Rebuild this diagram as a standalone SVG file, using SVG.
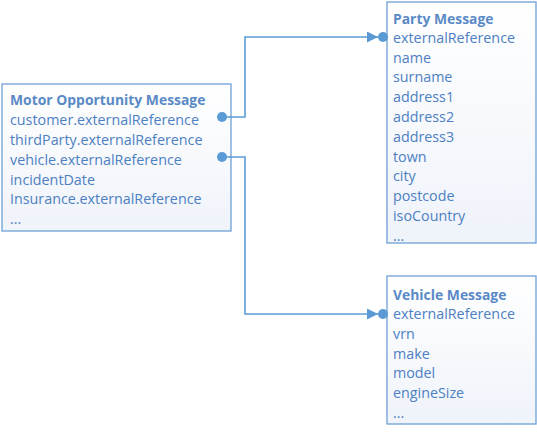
<svg xmlns="http://www.w3.org/2000/svg" width="537" height="433" viewBox="0 0 537 433">
<style>
.box{fill:url(#g);stroke:#6fa0d6;stroke-width:1.3}
.t{font-family:"Open Sans","Liberation Sans",sans-serif;font-size:14.3px;fill:#4d80c2}
.h{font-weight:bold;font-size:13.9px;fill:#5a8ac6}
.c{fill:none;stroke:#5b9bd5;stroke-width:1.6}
.d{fill:#5b9bd5}
</style>
<defs>
<linearGradient id="g" x1="0" y1="0" x2="0" y2="1">
<stop offset="0" stop-color="#ffffff"/>
<stop offset="1" stop-color="#eff3fa"/>
</linearGradient>
<marker id="a" viewBox="0 0 10 10" refX="10" refY="5" markerWidth="11" markerHeight="11" markerUnits="userSpaceOnUse" orient="auto">
<path d="M0,0 L10,5 L0,10 z" fill="#5b9bd5"/>
</marker>
</defs>
<rect width="537" height="433" fill="#ffffff"/>
<g id="motor">
<rect class="box" x="2" y="84" width="229" height="147"/>
<text class="t" x="10">
<tspan class="h" x="10" y="105">Motor Opportunity Message</tspan>
<tspan x="10" y="125">customer.externalReference</tspan>
<tspan x="10" y="145">thirdParty.externalReference</tspan>
<tspan x="10" y="165">vehicle.externalReference</tspan>
<tspan x="10" y="185">incidentDate</tspan>
<tspan x="10" y="204">Insurance.externalReference</tspan>
<tspan x="10" y="224">...</tspan>
</text>
</g>
<g id="party">
<rect class="box" x="387" y="2" width="149" height="241"/>
<text class="t">
<tspan class="h" x="393" y="24">Party Message</tspan>
<tspan x="393" y="43">externalReference</tspan>
<tspan x="393" y="63">name</tspan>
<tspan x="393" y="82">surname</tspan>
<tspan x="393" y="102">address1</tspan>
<tspan x="393" y="122">address2</tspan>
<tspan x="393" y="142">address3</tspan>
<tspan x="393" y="162">town</tspan>
<tspan x="393" y="181">city</tspan>
<tspan x="393" y="201">postcode</tspan>
<tspan x="393" y="221">isoCountry</tspan>
<tspan x="393" y="241">...</tspan>
</text>
</g>
<g id="vehicle">
<rect class="box" x="387" y="276" width="149" height="148"/>
<text class="t">
<tspan class="h" x="393" y="300">Vehicle Message</tspan>
<tspan x="393" y="319">externalReference</tspan>
<tspan x="393" y="339">vrn</tspan>
<tspan x="393" y="359">make</tspan>
<tspan x="393" y="378">model</tspan>
<tspan x="393" y="398">engineSize</tspan>
<tspan x="393" y="418">...</tspan>
</text>
</g>
<g id="connectors">
<path class="c" d="M222,117 H245 V37 H378" marker-end="url(#a)"/>
<path class="c" d="M222,157 H245 V314 H378" marker-end="url(#a)"/>
<circle class="d" cx="222" cy="117" r="5"/>
<circle class="d" cx="222" cy="157" r="5"/>
<circle class="d" cx="383" cy="37" r="5"/>
<circle class="d" cx="383" cy="314" r="5"/>
</g>
</svg>
